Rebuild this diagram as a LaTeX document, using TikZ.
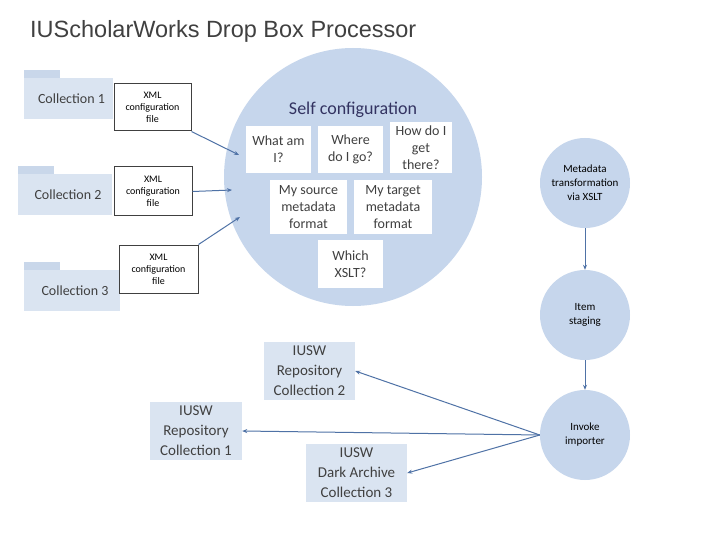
\documentclass[tikz,border=0pt]{standalone}
\usepackage{fontspec}
\setmainfont{Carlito}
\newfontfamily\titlefont{Liberation Sans}
\usetikzlibrary{arrows.meta}
\definecolor{circ}{HTML}{C6D6EC}
\definecolor{fold}{HTML}{DAE4F1}
\definecolor{foldt}{HTML}{C9D7EA}
\definecolor{arr}{HTML}{4F72A6}
\definecolor{txt}{HTML}{404040}
\begin{document}
\begin{tikzpicture}[x=1pt,y=-1pt,
 conn/.style={draw=arr,line width=1pt,-{Stealth[length=5pt,width=4pt]}},
 xml/.style={draw=black!75,line width=1pt,fill=white,align=center,font=\fontsize{10}{12}\selectfont,text=black},
 wbox/.style={fill=white,align=center,font=\fontsize{14}{17}\selectfont,text=txt,inner sep=1pt},
 rbox/.style={fill=fold,align=center,font=\fontsize{15}{20}\selectfont,text=txt,inner sep=1pt},
 rc/.style={circle,fill=circ,minimum size=90pt,inner sep=0pt,align=center,font=\fontsize{11}{14}\selectfont}]
\useasboundingbox (0,0) rectangle (720,540);
\fill[white] (0,0) rectangle (720,540);
\node[anchor=west,font=\titlefont\fontsize{23.5}{26}\selectfont,text=txt,inner sep=0pt] (title) at (30,31) {IUScholarWorks Drop Box Processor};
% folders
\foreach \x/\y/\w/\n/\t in {24/70/89/1/Collection 1,18/166/94/2/Collection 2,24/262/96/3/Collection 3}{
 \fill[foldt] (\x,\y) rectangle ++(36,9);
 \fill[fold] (\x,\y+8) rectangle ++(\w,41);
 \node[font=\fontsize{14}{16}\selectfont,text=txt] (f\n) at (\x+\w/2+3,\y+29) {\t};
}
\node[xml,minimum width=77pt,minimum height=47pt] (x1) at (152.5,107.5) {XML\\configuration\\file};
\node[xml,minimum width=78pt,minimum height=49pt] (x2) at (153,191.5) {XML\\configuration\\file};
\node[xml,minimum width=79pt,minimum height=48pt] (x3) at (158.5,269) {XML\\configuration\\file};
% big circle
\node[circle,fill=circ,minimum size=258pt,inner sep=0pt] (big) at (353,177) {};
\node[font=\fontsize{18}{20}\selectfont,text=black!70!blue!60!gray] (sc) at (353,110) {Self configuration};
\node[wbox,minimum width=65pt,minimum height=47pt] (q1) at (278.5,149.5) {What am\\I?};
\node[wbox,minimum width=65pt,minimum height=47pt] (q2) at (350.5,149.5) {Where\\do I go?};
\node[wbox,minimum width=62pt,minimum height=51pt] (q3) at (421,147.5) {How do I\\get\\there?};
\node[wbox,minimum width=77pt,minimum height=54pt] (q4) at (308.5,207) {My source\\metadata\\format};
\node[wbox,minimum width=78pt,minimum height=54pt] (q5) at (393,207) {My target\\metadata\\format};
\node[wbox,minimum width=65pt,minimum height=48pt] (q6) at (350.5,264) {Which\\XSLT?};
% right circles
\node[rc] (meta) at (585,183) {Metadata\\transformation\\via XSLT};
\node[rc] (item) at (585,315) {Item\\staging};
\node[rc] (inv) at (585,435) {Invoke\\importer};
% repos
\node[rbox,minimum width=91pt,minimum height=58pt] (r2) at (309.5,371) {IUSW\\Repository\\Collection 2};
\node[rbox,minimum width=92pt,minimum height=58pt] (r1) at (196,431) {IUSW\\Repository\\Collection 1};
\node[rbox,minimum width=101pt,minimum height=58pt] (r3) at (356.5,473) {IUSW\\Dark Archive\\Collection 3};
\coordinate (b1) at (239,155);
\coordinate (b2) at (232,190);
\coordinate (b3) at (240,217);
\draw[conn] (x1.south east) -- (b1);
\draw[conn] (x2.east) -- (b2);
\draw[conn] (x3.north east) -- (b3);
\draw[conn] (meta) -- (item);
\draw[conn] (item) -- (inv);
\draw[conn] (inv.west) -- (r2.east);
\draw[conn] (inv.west) -- (r1.east);
\draw[conn] (inv.west) -- (r3.east);
\end{tikzpicture}
\end{document}
